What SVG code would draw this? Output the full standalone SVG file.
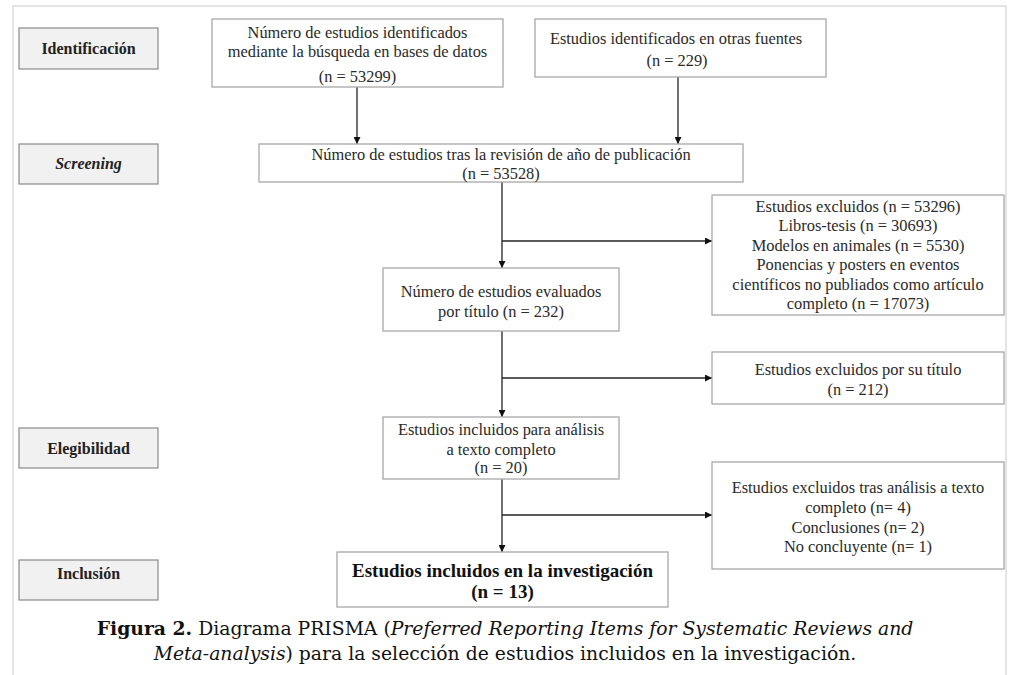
<svg xmlns="http://www.w3.org/2000/svg" width="1011" height="675" viewBox="0 0 1011 675">
<defs>
<marker id="ah" viewBox="0 0 10 10" refX="10" refY="5" markerWidth="7" markerHeight="7" markerUnits="userSpaceOnUse" orient="auto">
<path d="M0,0 L10,5 L0,10 Z" fill="#111"/>
</marker>
<style>
.frame{fill:#fff;stroke:#dcdcdc;stroke-width:1.5}
.phase{fill:#f1f1f1;stroke:#8a8a8a;stroke-width:1.2}
.box{fill:#fff;stroke:#a8a8a8;stroke-width:1.3}
.pt{font-family:"Liberation Serif",serif;font-size:16px;font-weight:bold;fill:#222;text-anchor:middle}
.t{font-family:"Liberation Serif",serif;font-size:16.4px;fill:#2a2a2a;text-anchor:middle}
.tb{font-family:"Liberation Serif",serif;font-size:19px;font-weight:bold;fill:#111;text-anchor:middle}
.cap{font-family:"DejaVu Serif",serif;font-size:18.8px;fill:#111;text-anchor:middle}
.ln{fill:none;stroke:#222;stroke-width:1.3}
</style>
</defs>
<rect width="1011" height="675" fill="#fff"/>
<rect class="frame" x="13" y="6" width="993" height="680"/>

<g id="phase-identificacion"><rect class="phase" x="19" y="28" width="139" height="41"/><text class="pt" x="88.5" y="54">Identificación</text></g>
<g id="phase-screening"><rect class="phase" x="19" y="144" width="139" height="40"/><text class="pt" x="88.5" y="169" font-style="italic">Screening</text></g>
<g id="phase-elegibilidad"><rect class="phase" x="19" y="428" width="139" height="40"/><text class="pt" x="88.5" y="454">Elegibilidad</text></g>
<g id="phase-inclusion"><rect class="phase" x="19" y="560" width="139" height="40"/><text class="pt" x="88.5" y="579">Inclusión</text></g>

<g id="connectors">
<line class="ln" x1="357" y1="87" x2="357" y2="144" marker-end="url(#ah)"/>
<line class="ln" x1="678" y1="77" x2="678" y2="144" marker-end="url(#ah)"/>
<line class="ln" x1="502" y1="182" x2="502" y2="268" marker-end="url(#ah)"/>
<line class="ln" x1="502" y1="241" x2="712" y2="241" marker-end="url(#ah)"/>
<line class="ln" x1="502" y1="331" x2="502" y2="417" marker-end="url(#ah)"/>
<line class="ln" x1="502" y1="378" x2="712" y2="378" marker-end="url(#ah)"/>
<line class="ln" x1="502" y1="479" x2="502" y2="552" marker-end="url(#ah)"/>
<line class="ln" x1="502" y1="515" x2="712" y2="515" marker-end="url(#ah)"/>
</g>

<g id="n-databases"><rect class="box" x="212" y="19" width="291" height="68"/>
<text class="t" x="357.5" y="37.5">Número de estudios identificados</text>
<text class="t" x="357.5" y="57">mediante la búsqueda en bases de datos</text>
<text class="t" x="357.5" y="82">(n = 53299)</text></g>

<g id="n-otras"><rect class="box" x="535" y="19" width="291" height="58"/>
<text class="t" x="676" y="44">Estudios identificados en otras fuentes</text>
<text class="t" x="677" y="66">(n = 229)</text></g>

<g id="n-screening"><rect class="box" x="259" y="144" width="484" height="38"/>
<text class="t" x="501" y="160">Número de estudios tras la revisión de año de publicación</text>
<text class="t" x="501" y="179">(n = 53528)</text></g>

<g id="n-excl1"><rect class="box" x="712" y="195" width="292" height="120"/>
<text class="t" x="858" y="212">Estudios excluidos (n = 53296)</text>
<text class="t" x="858" y="231.4">Libros-tesis (n = 30693)</text>
<text class="t" x="858" y="250.8">Modelos en animales (n = 5530)</text>
<text class="t" x="858" y="270.2">Ponencias y posters en eventos</text>
<text class="t" x="858" y="289.6">científicos no publiados como artículo</text>
<text class="t" x="858" y="309">completo  (n = 17073)</text></g>

<g id="n-titulo"><rect class="box" x="383" y="268" width="236" height="63"/>
<text class="t" x="501" y="297">Número de estudios evaluados</text>
<text class="t" x="501" y="317">por título (n = 232)</text></g>

<g id="n-excl2"><rect class="box" x="712" y="352" width="292" height="52"/>
<text class="t" x="858" y="375">Estudios excluidos por su título</text>
<text class="t" x="858" y="395">(n = 212)</text></g>

<g id="n-texto"><rect class="box" x="383" y="417" width="236" height="62"/>
<text class="t" x="501" y="435">Estudios incluidos para análisis</text>
<text class="t" x="501" y="455">a texto completo</text>
<text class="t" x="501" y="473">(n = 20)</text></g>

<g id="n-excl3"><rect class="box" x="712" y="462" width="292" height="107"/>
<text class="t" x="858" y="493">Estudios excluidos tras análisis a texto</text>
<text class="t" x="858" y="513">completo (n= 4)</text>
<text class="t" x="858" y="533">Conclusiones (n= 2)</text>
<text class="t" x="858" y="552">No concluyente (n= 1)</text></g>

<g id="n-final"><rect class="box" x="337" y="552" width="331" height="55"/>
<text class="tb" x="502.5" y="577">Estudios incluidos en la investigación</text>
<text class="tb" x="502.5" y="598">(n = 13)</text></g>

<g id="caption">
<text class="cap" x="505" y="635"><tspan font-weight="bold">Figura 2.</tspan> Diagrama PRISMA (<tspan font-style="italic">Preferred Reporting Items for Systematic Reviews and</tspan></text>
<text class="cap" x="505" y="660"><tspan font-style="italic">Meta-analysis</tspan>) para la selección de estudios incluidos en la investigación.</text>
</g>
</svg>
